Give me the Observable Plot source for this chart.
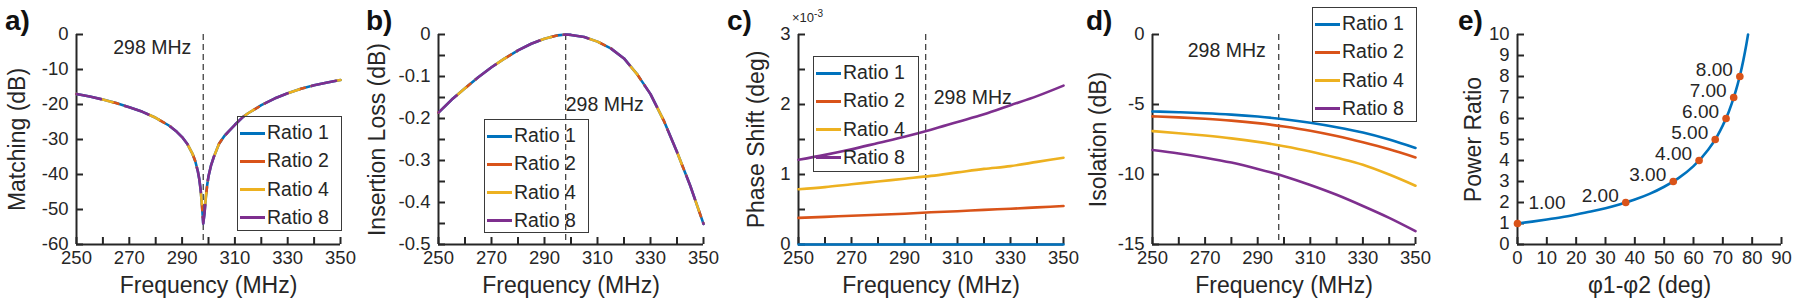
<!DOCTYPE html>
<html><head><meta charset="utf-8">
<script src="https://cdn.jsdelivr.net/npm/d3@7"></script>
<script src="https://cdn.jsdelivr.net/npm/@observablehq/plot@0.6"></script>
<style>
body{margin:0;background:#fff;}
#wrap{position:relative;width:1800px;height:307px;overflow:hidden;font-family:"Liberation Sans",Arial,Helvetica,sans-serif;color:#262626;}
.lbl{position:absolute;font-weight:bold;font-size:28px;line-height:1;color:#111;}
.leg{position:absolute;border:1.3px solid #3a3a3a;box-sizing:border-box;}
.legitem{position:absolute;font-size:19.5px;line-height:1;white-space:nowrap;}
.legline{position:absolute;height:3px;}
</style></head><body><div id="wrap"></div>
<script>
// ---------- data ----------
const seriesNames = ["Ratio 1", "Ratio 2", "Ratio 4", "Ratio 8"];
const seriesColors = ["#0072BD", "#D95319", "#EDB120", "#7E2F8E"];

// a) Matching (dB)
const matchFreq = [250,255,260,265,270,275,280,285,288,290,292,294,295,296,296.5,297,297.5,298,298.5,299,299.5,300,301,302,304,306,308,310,313,315,320,325,330,335,340,345,350];
const matching  = [-17.0,-17.7,-18.6,-19.6,-20.8,-22.1,-23.8,-26.0,-27.8,-29.3,-31.3,-34.2,-36.2,-39.2,-41.3,-44.2,-48.5,-54.0,-51.0,-46.5,-43.0,-40.5,-37.3,-35.0,-31.2,-29.0,-27.4,-25.8,-23.6,-22.5,-20.2,-18.3,-16.8,-15.5,-14.5,-13.7,-13.0];

// b) Insertion Loss (dB)
const ilFreq = [250,255,260,265,270,275,280,285,290,295,298,300,305,310,315,320,325,330,335,340,345,350];
const insertionLoss = [-0.186,-0.155,-0.128,-0.102,-0.078,-0.057,-0.038,-0.022,-0.010,-0.002,0,-0.001,-0.006,-0.017,-0.033,-0.057,-0.095,-0.142,-0.205,-0.280,-0.360,-0.451];

// c) Phase shift (x1e-3 deg) and d) Isolation (dB)
const freq = [250,260,270,280,290,300,310,320,330,340,350];
const phaseShift = {
  "Ratio 1": [0,0,0,0,0,0,0,0,0,0,0],
  "Ratio 2": [0.38,0.395,0.41,0.425,0.44,0.46,0.475,0.495,0.51,0.53,0.55],
  "Ratio 4": [0.79,0.82,0.86,0.90,0.94,0.98,1.03,1.08,1.12,1.18,1.24],
  "Ratio 8": [1.21,1.28,1.36,1.45,1.54,1.64,1.75,1.86,1.99,2.12,2.27]
};
const isolation = {
  "Ratio 1": [-5.5,-5.55,-5.62,-5.72,-5.86,-6.05,-6.3,-6.62,-7.0,-7.5,-8.1],
  "Ratio 2": [-5.85,-5.92,-6.02,-6.15,-6.33,-6.57,-6.87,-7.25,-7.7,-8.2,-8.78],
  "Ratio 4": [-6.9,-7.05,-7.22,-7.42,-7.67,-7.98,-8.35,-8.8,-9.3,-10.0,-10.8],
  "Ratio 8": [-8.25,-8.5,-8.8,-9.15,-9.6,-10.12,-10.75,-11.45,-12.25,-13.1,-14.05]
};

// e) Power ratio vs phase difference
const phaseCurve = [0,5,10,15,20,25,30,35,40,45,50,55,60,65,68,70,72,74,75,76,77,78,78.6];
const ratioCurve = [1,1.09,1.19,1.30,1.43,1.57,1.73,1.92,2.14,2.41,2.75,3.17,3.73,4.51,5.14,5.67,6.31,7.12,7.60,8.14,8.78,9.51,10.0];
const phasePts = [0,36.9,53.1,61.9,67.4,71.1,73.7,75.8];
const ratioPts = [1,2,3,4,5,6,7,8];

// ticks
const freqTicks = d3.range(250, 351, 10);
const freqLabels = [250,270,290,310,330,350];
const markerFreq = 298;

// ---------- helpers ----------
const AX = "#262626";
const wrap = document.getElementById("wrap");
const H = 307, MT = 34, MB = 63;

function panel({left, width = 360, ml, mr, xDomain, yDomain, xTicks, xLabels, yTicks, yLabels, yFmt = d => String(d), xTitle, yTitle, yTitleDx, marks}) {
  const fw = width - ml - mr, fh = H - MT - MB;
  const p = Plot.plot({
    width, height: H, marginLeft: ml, marginRight: mr, marginTop: MT, marginBottom: MB,
    x: {domain: xDomain}, y: {domain: yDomain},
    style: {fontFamily: "'Liberation Sans', Arial, Helvetica, sans-serif", color: AX, background: "transparent", overflow: "visible"},
    marks: [
      Plot.ruleY([yDomain[0]], {stroke: AX, strokeWidth: 2}),
      Plot.ruleX([xDomain[0]], {stroke: AX, strokeWidth: 2}),
      Plot.tickX(xTicks, {x: d => d, insetTop: fh - 7, stroke: AX, strokeWidth: 2}),
      Plot.tickY(yTicks, {y: d => d, insetRight: fw - 7, stroke: AX, strokeWidth: 2}),
      Plot.axisX(xLabels, {anchor: "bottom", tickSize: 0, tickPadding: 6, fontSize: 18.5, label: null, tickFormat: d => String(d), fill: AX}),
      Plot.axisY(yLabels, {anchor: "left", tickSize: 0, tickPadding: 8, fontSize: 18.5, label: null, tickFormat: yFmt, fill: AX}),
      Plot.text([xTitle], {text: d => d, frameAnchor: "bottom", textAnchor: "middle", lineAnchor: "middle", dy: 41, fontSize: 23, fill: AX}),
      Plot.text([yTitle], {text: d => d, frameAnchor: "left", textAnchor: "middle", lineAnchor: "middle", rotate: -90, dx: yTitleDx, fontSize: 23, fill: AX}),
      ...marks
    ]
  });
  p.style.position = "absolute";
  p.style.left = left + "px";
  p.style.top = "0px";
  wrap.appendChild(p);
}

function legend(left, top, w, h) {
  const box = document.createElement("div");
  box.className = "leg";
  Object.assign(box.style, {left: left + "px", top: top + "px", width: w + "px", height: h + "px"});
  wrap.appendChild(box);
  seriesNames.forEach((name, i) => {
    const cy = top + 17 + i * 28.3;
    const ln = document.createElement("div");
    ln.className = "legline";
    Object.assign(ln.style, {left: (left + 3) + "px", top: (cy - 1.5) + "px", width: "25px", background: seriesColors[i]});
    wrap.appendChild(ln);
    const t = document.createElement("div");
    t.className = "legitem";
    t.textContent = name;
    Object.assign(t.style, {left: (left + 30) + "px", top: (cy - 10) + "px"});
    wrap.appendChild(t);
  });
}

function label(text, left, top) {
  const d = document.createElement("div");
  d.className = "lbl"; d.textContent = text;
  d.style.left = left + "px"; d.style.top = top + "px";
  wrap.appendChild(d);
}

// overlapping identical lines drawn as alternating coloured segments
function overlapped(xs, ys) {
  const idx = d3.range(xs.length);
  const base = {x: i => xs[i], y: i => ys[i], strokeWidth: 2.6, curve: "linear"};
  return [
    Plot.line(idx, {...base, stroke: seriesColors[0]}),
    Plot.line(idx, {...base, stroke: seriesColors[1], strokeDasharray: "0,37,6,7"}),
    Plot.line(idx, {...base, stroke: seriesColors[2], strokeDasharray: "0,25,12,13"}),
    Plot.line(idx, {...base, stroke: seriesColors[3], strokeDasharray: "25,25"})
  ];
}

function multiLines(obj) {
  return seriesNames.map((name, k) => Plot.line(d3.range(freq.length), {x: i => freq[i], y: i => obj[name][i], stroke: seriesColors[k], strokeWidth: 2.6, curve: "monotone-x"}));
}

const dash = {stroke: "#333", strokeWidth: 1.2, strokeDasharray: "6,4"};
const annot = (dx, dy, anchor) => Plot.text([markerFreq], {x: d => d, text: () => "298 MHz", frameAnchor: "top", lineAnchor: "middle", dy, dx, textAnchor: anchor, fontSize: 19.5, fill: AX});

// ---------- panels ----------
panel({left: 0, ml: 76, mr: 20, xDomain: [250, 350], yDomain: [-60, 0],
  xTicks: freqTicks, xLabels: freqLabels, yTicks: d3.range(-60, 1, 10), yLabels: d3.range(-60, 1, 10),
  xTitle: "Frequency (MHz)", yTitle: "Matching (dB)", yTitleDx: -59,
  marks: [Plot.ruleX([markerFreq], dash), annot(-12, 13, "end"), ...overlapped(matchFreq, matching)]});

panel({left: 360, ml: 78, mr: 17, xDomain: [250, 350], yDomain: [-0.5, 0],
  xTicks: freqTicks, xLabels: freqLabels, yTicks: d3.range(-10, 1).map(d => d * 0.05), yLabels: [-0.5,-0.4,-0.3,-0.2,-0.1,0],
  xTitle: "Frequency (MHz)", yTitle: "Insertion Loss (dB)", yTitleDx: -61,
  marks: [Plot.ruleX([markerFreq], dash), annot(0, 70, "start"), ...overlapped(ilFreq, insertionLoss)]});

panel({left: 720, ml: 78, mr: 17, xDomain: [250, 350], yDomain: [0, 3],
  xTicks: freqTicks, xLabels: freqLabels, yTicks: d3.range(0, 7).map(d => d * 0.5), yLabels: [0,1,2,3],
  xTitle: "Frequency (MHz)", yTitle: "Phase Shift (deg)", yTitleDx: -42,
  marks: [Plot.ruleX([markerFreq], dash), annot(8, 63, "start"), ...multiLines(phaseShift)]});

panel({left: 1080, ml: 72, mr: 25, xDomain: [250, 350], yDomain: [-15, 0],
  xTicks: freqTicks, xLabels: freqLabels, yTicks: [-15,-10,-5,0], yLabels: [-15,-10,-5,0],
  xTitle: "Frequency (MHz)", yTitle: "Isolation (dB)", yTitleDx: -54,
  marks: [Plot.ruleX([markerFreq], dash), annot(-13, 16, "end"), ...multiLines(isolation)]});

const ptIdx = d3.range(phasePts.length);
panel({left: 1440, ml: 77, mr: 19, xDomain: [0, 90], yDomain: [0, 10],
  xTicks: d3.range(0, 91, 10), xLabels: d3.range(0, 91, 10), yTicks: d3.range(0, 11), yLabels: d3.range(0, 11),
  xTitle: "φ1-φ2 (deg)", yTitle: "Power Ratio", yTitleDx: -44,
  marks: [
    Plot.line(d3.range(phaseCurve.length), {x: i => phaseCurve[i], y: i => ratioCurve[i], stroke: seriesColors[0], strokeWidth: 2.6, curve: "monotone-x"}),
    Plot.dot(ptIdx, {x: i => phasePts[i], y: i => ratioPts[i], r: 3.8, fill: seriesColors[1], stroke: "none"}),
    Plot.text(ptIdx.filter(i => i === 0), {x: i => phasePts[i], y: i => ratioPts[i], text: i => ratioPts[i].toFixed(2), textAnchor: "start", dx: 11, dy: -21, fontSize: 19, fill: AX}),
    Plot.text(ptIdx.filter(i => i > 0), {x: i => phasePts[i], y: i => ratioPts[i], text: i => ratioPts[i].toFixed(2), textAnchor: "end", dx: -7, dy: -7, fontSize: 19, fill: AX})
  ]});

// legends
legend(237, 116, 105, 115);
legend(484, 119, 105, 114);
legend(813, 56, 106, 116);
legend(1312, 7, 105, 115);

// exponent label
const ex = document.createElement("div");
ex.innerHTML = "×10<sup style='font-size:10px'>-3</sup>";
Object.assign(ex.style, {position: "absolute", left: "792px", top: "9px", fontSize: "13px", lineHeight: "1"});
wrap.appendChild(ex);

// panel labels
label("a)", 5, 7);
label("b)", 366, 7);
label("c)", 727, 7);
label("d)", 1086, 7);
label("e)", 1458, 7);
</script></body></html>
